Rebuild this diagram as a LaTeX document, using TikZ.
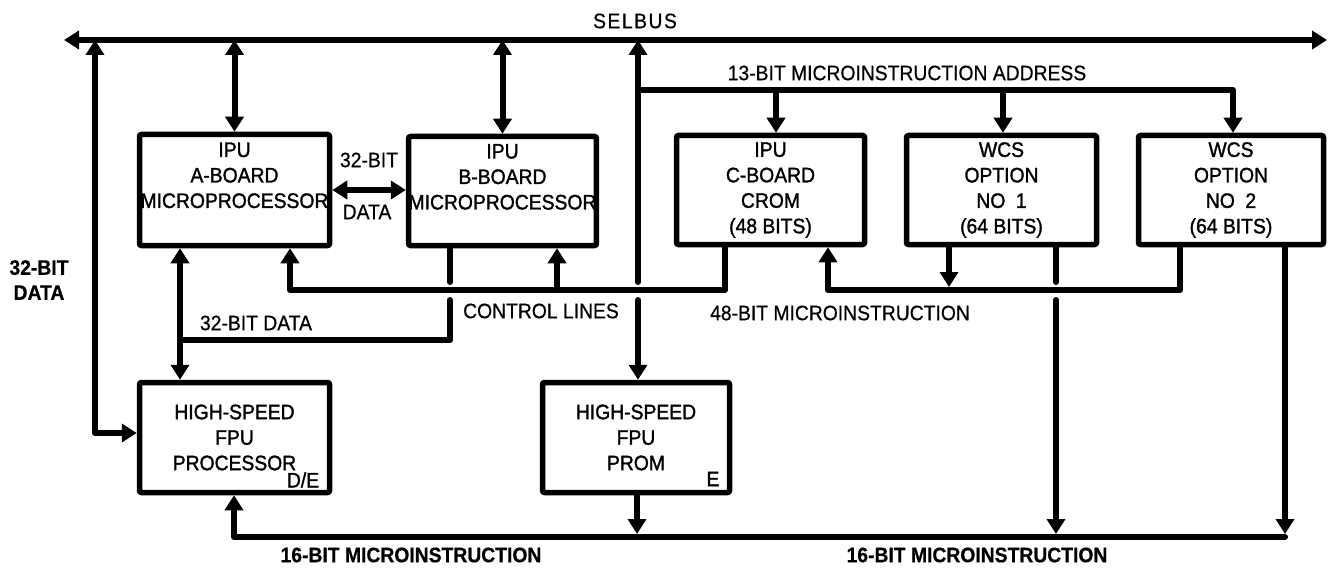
\documentclass[tikz,border=0pt]{standalone}
\usepackage{fontspec}
\setmainfont{Liberation Sans}[FakeStretch=0.92,FakeBold=0.6]
\newfontfamily\medfont{Liberation Sans}[FakeStretch=0.92,FakeBold=1.4]
\usetikzlibrary{arrows.meta}
\begin{document}
\begin{tikzpicture}[x=1pt,y=-1pt,
  bus/.style={line width=6pt,line cap=round,line join=round},
  arr/.style={bus,-{Triangle[length=15pt,width=18pt]}},
  darr/.style={bus,{Triangle[length=15pt,width=18pt]}-{Triangle[length=15pt,width=18pt]}},
  box/.style={draw,line width=5.5pt,rounded corners=2pt,align=center,inner sep=0pt,font=\medfont\fontsize{21}{25.5}\selectfont},
  lbl/.style={inner sep=0pt,font=\fontsize{21}{25}\selectfont},
  blbl/.style={inner sep=0pt,align=center,font=\fontsize{21}{25}\selectfont\bfseries}
]
\useasboundingbox (0,0) rectangle (1330,580);

% boxes
\node[box,minimum width=190pt,minimum height=111pt] (A) at (234.5,190) {IPU\\A-BOARD\\MICROPROCESSOR\\[4pt]};
\node[box,minimum width=186pt,minimum height=109pt] (B) at (502.5,191) {IPU\\B-BOARD\\MICROPROCESSOR\\[3pt]};
\node[box,minimum width=188pt,minimum height=109pt] (C) at (770.5,190) {IPU\\C-BOARD\\CROM\\(48 BITS)};
\node[box,minimum width=190pt,minimum height=109pt] (W1) at (1001.5,190) {WCS\\OPTION\\NO\enspace 1\\(64 BITS)};
\node[box,minimum width=185pt,minimum height=109pt] (W2) at (1231,190) {WCS\\OPTION\\NO\enspace 2\\(64 BITS)};
\node[box,minimum width=190pt,minimum height=110pt] (P) at (234.5,437.5) {HIGH-SPEED\\FPU\\PROCESSOR};
\node[box,minimum width=187pt,minimum height=110pt] (R) at (636,437.5) {HIGH-SPEED\\FPU\\PROM};
\node[lbl,font=\medfont\fontsize{21}{25}\selectfont] (de) at (303,480) {D/E};
\node[lbl,font=\medfont\fontsize{21}{25}\selectfont] (e) at (713,479) {E};

% SELBUS
\coordinate (bL) at (64,40);
\coordinate (bR) at (1327,40);
\draw[darr] (bL) -- (bR);
\node[lbl] (selbus) at (635,21) {S\kern1.5pt E\kern1.5pt L\kern1.5pt B\kern1.5pt U\kern1.5pt S};

% left 32-bit data
\draw[darr] (P.west |- 0,433) -- (95,433) -- (95,40);
\node[blbl] (ld) at (39,280) {32-BIT\\DATA};

% bus taps
\draw[darr] (A.north) -- (A.north |- bL);
\draw[darr] (B.north) -- (B.north |- bL);
\draw[darr] (A.east) -- (A.east -| B.west);
\node[lbl] (d32a) at (369,160) {32-BIT};
\node[lbl] (d32b) at (367,212) {DATA};

% selbus to PROM and 13-bit address
\draw[arr] (638,282) -- (638,40);
\draw[arr] (638,300) -- (R.north -| 638,0);
\draw[arr] (638,90) -- (1233,90) -- (W2.north -| 1233,0);
\draw[arr] (776,90) -- (C.north -| 776,0);
\draw[arr] (1003,90) -- (W1.north -| 1003,0);
\node[lbl] (addr) at (907,73) {13-BIT MICROINSTRUCTION ADDRESS};

% control lines
\draw[arr] (C.south -| 725,0) -- (725,290) -- (290,290) -- (A.south -| 290,0);
\draw[arr] (557,290) -- (B.south -| 557,0);
\node[lbl] (ctl) at (541,311) {CONTROL LINES};

% B to FPU 32-bit data
\draw[bus] (B.south -| 450,0) -- (450,282);
\draw[bus] (450,300) -- (450,340) -- (180,340);
\draw[darr] (A.south -| 180,0) -- (P.north -| 180,0);
\node[lbl] (d32m) at (256,323) {32-BIT DATA};

% 48-bit microinstruction
\draw[arr] (W2.south -| 1180,0) -- (1180,290) -- (828,290) -- (C.south -| 828,0);
\draw[arr] (W1.south -| 949,0) -- (949,287);
\node[lbl] (m48) at (840,313) {48-BIT MICROINSTRUCTION};

% 16-bit microinstruction
\draw[bus] (W1.south -| 1056,0) -- (1056,282);
\draw[arr] (1056,300) -- (1056,534);
\draw[arr] (W2.south -| 1285,0) -- (1285,534);
\draw[arr] (1285,537) -- (234,537) -- (P.south -| 234,0);
\draw[arr] (R.south -| 637,0) -- (637,534);
\node[blbl] (m16a) at (411,555) {16-BIT MICROINSTRUCTION};
\node[blbl] (m16b) at (977,555) {16-BIT MICROINSTRUCTION};
\end{tikzpicture}
\end{document}
